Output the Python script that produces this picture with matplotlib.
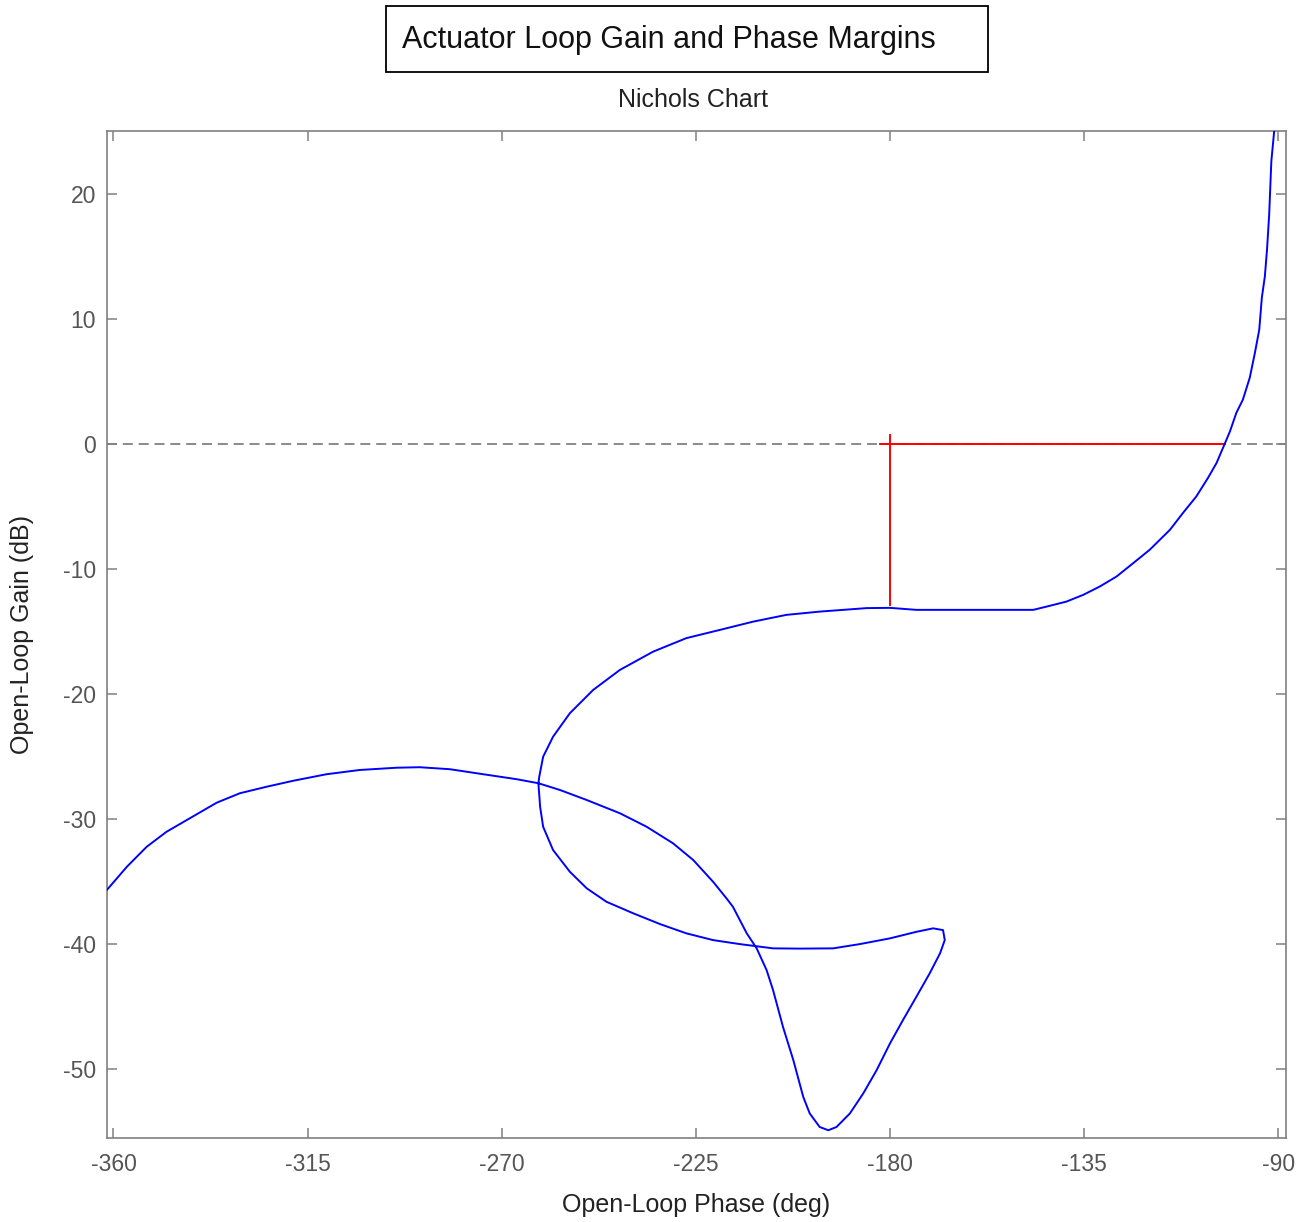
#!/usr/bin/env python3
"""Nichols chart of the actuator loop with gain and phase margin markers."""

import matplotlib
matplotlib.use('Agg')
import matplotlib.pyplot as plt
from matplotlib.patches import Rectangle

plt.rcParams['font.family'] = ['Liberation Sans', 'DejaVu Sans']
plt.rcParams['axes.unicode_minus'] = False

# open-loop response (deg, dB)
phase = [-90.8, -91.6, -92.1, -92.6, -93.1, -93.8, -94.4, -95.4, -96.6, -98.2,
         -99.7, -101.2, -102.4, -104.3, -106.3, -109.0, -112.1, -115.1, -119.8,
         -123.6, -127.5, -131.4, -135.2, -139.1, -143.7, -146.8, -173.9, -180.0,
         -185.4, -196.3, -204.0, -211.7, -219.4, -227.2, -234.9, -242.6, -248.8,
         -254.2, -258.1, -260.4, -261.3, -261.5, -261.1, -260.4, -258.1, -254.2,
         -250.3, -245.7, -239.5, -233.3, -227.2, -221.0, -214.8, -207.1, -200.9,
         -193.2, -187.0, -180.0, -173.9, -170.0, -167.7, -167.3, -168.4, -170.8,
         -173.9, -177.0, -180.0, -183.1, -186.2, -189.3, -192.4, -194.3, -196.3,
         -198.6, -200.1, -202.4, -204.8, -207.1, -208.6, -210.9, -213.2, -216.4,
         -217.9, -221.0, -225.6, -230.3, -236.4, -242.6, -250.3, -256.5, -261.5,
         -266.5, -274.3, -282.0, -289.0, -294.4, -302.9, -310.6, -318.3, -324.5,
         -330.7, -336.1, -342.3, -347.7, -352.3, -356.9, -361.6]
gain = [25.5, 22.58, 18.32, 15.52, 13.38, 11.68, 9.12, 7.28, 5.28, 3.52,
        2.48, 0.98, 0.0, -1.54, -2.74, -4.22, -5.54, -6.88, -8.48,
        -9.54, -10.62, -11.42, -12.08, -12.62, -13.02, -13.28, -13.28, -13.12,
        -13.14, -13.42, -13.68, -14.22, -14.88, -15.54, -16.62, -18.08, -19.68,
        -21.54, -23.42, -25.02, -26.62, -27.14, -29.02, -30.62, -32.48, -34.22,
        -35.54, -36.62, -37.54, -38.4, -39.14, -39.68, -40.0, -40.34, -40.36,
        -40.34, -40.0, -39.54, -39.02, -38.74, -38.88, -39.68, -40.74, -42.34,
        -44.22, -46.08, -47.94, -50.08, -51.94, -53.54, -54.62, -54.88, -54.62,
        -53.54, -52.22, -49.28, -46.62, -43.68, -42.08, -40.34, -39.14, -37.02,
        -36.34, -35.02, -33.28, -31.94, -30.62, -29.54, -28.48, -27.68, -27.14,
        -26.82, -26.42, -26.02, -25.86, -25.9, -26.08, -26.42, -26.94, -27.42,
        -27.94, -28.7, -29.94, -31.02, -32.22, -33.82, -35.7]

# margin markers
pm_phase = [-182.3, -102.4]     # phase-margin line at 0 dB
gm_gain = [0.72, -12.9]         # gain-margin line at -180 deg

xticks = [-360, -315, -270, -225, -180, -135, -90]
yticks = [-50, -40, -30, -20, -10, 0, 10, 20]

W, H = 1296, 1222
fig = plt.figure(figsize=(W / 100, H / 100), dpi=100)
ax = fig.add_axes([107 / W, 1 - 1138 / H, 1179 / W, 1007 / H])

ax.axhline(0, color='#777777', lw=1.2, ls=(0, (6, 3.5)), zorder=1)
ax.plot(pm_phase, [0, 0], color='red', lw=1.4, zorder=2)
ax.plot([-180, -180], gm_gain, color='red', lw=1.4, zorder=2)
ax.plot(phase, gain, color='blue', lw=1.4, zorder=3)

ax.set_xlim(-361.5, -88.2)
ax.set_ylim(-55.5, 25.0)
ax.set_xticks(xticks)
ax.set_yticks(yticks)
ax.tick_params(direction='in', length=7, width=1.1, color='#808080',
               labelcolor='#555555', labelsize=16.5,
               top=True, right=True)
ax.tick_params(axis='x', pad=11)
ax.tick_params(axis='y', pad=8)
for s in ax.spines.values():
    s.set_color('#808080')
    s.set_linewidth(1.2)

ax.set_xlabel('Open-Loop Phase (deg)', fontsize=18, color='#222222')
ax.set_ylabel('Open-Loop Gain (dB)', fontsize=18, color='#222222')
ax.xaxis.label.set_va('center')
ax.yaxis.label.set_va('center')
ax.xaxis.set_label_coords(0.5, (1138 - 1205) / 1007)
ax.yaxis.set_label_coords((22 - 107) / 1179, 0.5)

# boxed title and subtitle
fig.add_artist(Rectangle((386 / W, 1 - 72 / H), 602 / W, 66 / H,
                         transform=fig.transFigure, fill=False,
                         edgecolor='black', lw=1.3))
fig.text(402 / W, 1 - 40 / H, 'Actuator Loop Gain and Phase Margins',
         fontsize=22, color='#111111', ha='left', va='center')
fig.text(693 / W, 1 - 100 / H, 'Nichols Chart', fontsize=18,
         color='#222222', ha='center', va='center')

fig.savefig('out.png', dpi=100)
